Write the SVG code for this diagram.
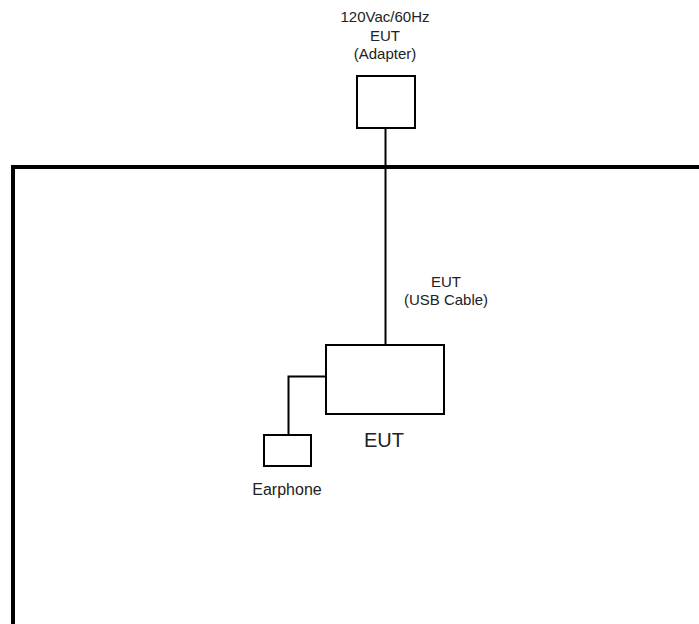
<svg xmlns="http://www.w3.org/2000/svg" width="699" height="624" viewBox="0 0 699 624">
<style>
.box{fill:#fff;stroke:#000;stroke-width:2}
.ln{fill:none;stroke:#000;stroke-width:2}
.frame{fill:none;stroke:#000;stroke-width:4}
text{font-family:"Liberation Sans",Arial,sans-serif;fill:#222;text-anchor:middle}
.s{font-size:15px}
.e{font-size:16px}
.b{font-size:20px}
</style>
<rect width="699" height="624" fill="#fff"/>
<path class="frame" d="M13 624 V167 H699"/>
<g id="connectors">
<path class="ln" d="M385.5 128 V344"/>
<path class="ln" d="M326 376.5 H288.5 V435"/>
</g>
<g id="adapter">
<text class="s" x="385" y="22">120Vac/60Hz</text>
<text class="s" x="385" y="41">EUT</text>
<text class="s" x="385" y="59">(Adapter)</text>
<rect class="box" x="357" y="76" width="58" height="52"/>
</g>
<g id="usb-label">
<text class="s" x="446" y="287">EUT</text>
<text class="s" x="446" y="305">(USB Cable)</text>
</g>
<g id="eut">
<rect class="box" x="326" y="345" width="118" height="69"/>
<text class="b" x="384" y="447">EUT</text>
</g>
<g id="earphone">
<rect class="box" x="264" y="435" width="47" height="31"/>
<text class="e" x="287" y="495">Earphone</text>
</g>
</svg>
